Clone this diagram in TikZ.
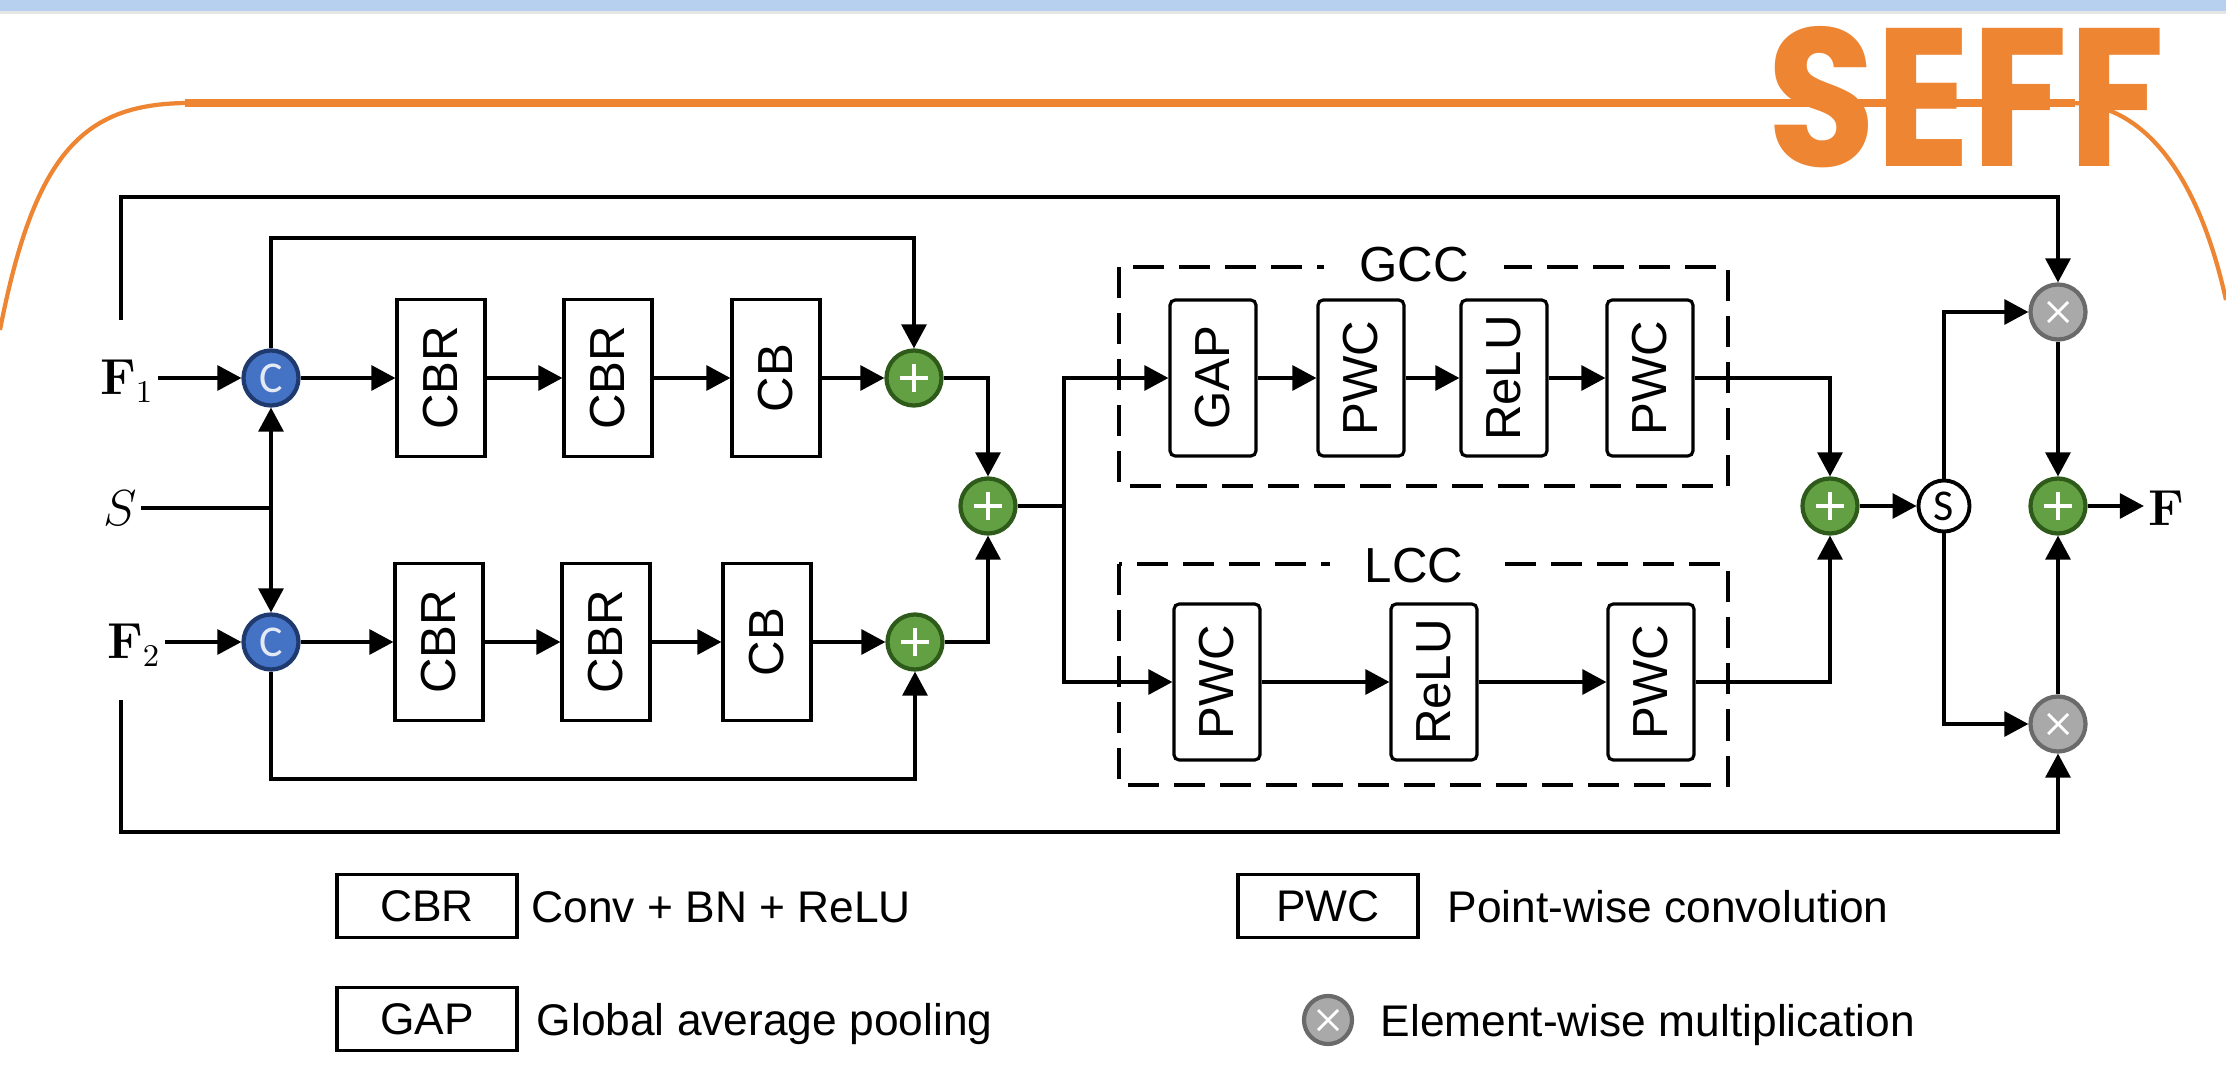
\documentclass[tikz,border=0pt]{standalone}
\usepackage[no-math]{fontspec}
\usepackage{graphicx}
\setmainfont{Liberation Sans}
\newfontfamily\symfont{Carlito}
\newfontfamily\titlefont{Poppins}
\usetikzlibrary{arrows.meta,calc}
\definecolor{seffor}{HTML}{EE8532}
\definecolor{bandblue}{HTML}{B7D0F0}
\definecolor{cfill}{HTML}{4472C4}
\definecolor{cborder}{HTML}{1F3A6E}
\definecolor{gfill}{HTML}{62A043}
\definecolor{gborder}{HTML}{2E5A1A}
\definecolor{xfill}{HTML}{A9A9A9}
\definecolor{xborder}{HTML}{6A6A6A}
\tikzset{
  conn/.style={line width=0.9pt},
  arr/.style={conn,-{Triangle[length=0.24cm,width=0.25cm]}},
  blk/.style={draw,line width=0.9pt,minimum width=0.88cm,minimum height=1.57cm,inner sep=0pt,font=\fontsize{14}{16}\selectfont},
  rblk/.style={blk,rounded corners=1.5pt,minimum width=0.86cm,minimum height=1.56cm},
  catc/.style={circle,draw=cborder,fill=cfill,line width=1.2pt,minimum size=0.55cm,inner sep=0pt,text=white!85!cfill,font=\symfont\fontsize{12.5}{12.5}\selectfont},
  addc/.style={circle,draw=gborder,fill=gfill,line width=1.2pt,minimum size=0.55cm,inner sep=0pt,
    path picture={\draw[white,line width=0.9pt]
      ([xshift=-0.14cm]path picture bounding box.center) -- ([xshift=0.14cm]path picture bounding box.center)
      ([yshift=-0.14cm]path picture bounding box.center) -- ([yshift=0.14cm]path picture bounding box.center);}},
  mulc/.style={circle,draw=xborder,fill=xfill,line width=1.2pt,minimum size=0.55cm,inner sep=0pt,
    path picture={\draw[white,line width=0.8pt]
      ([xshift=-0.1cm,yshift=-0.1cm]path picture bounding box.center) -- ([xshift=0.1cm,yshift=0.1cm]path picture bounding box.center)
      ([xshift=-0.1cm,yshift=0.1cm]path picture bounding box.center) -- ([xshift=0.1cm,yshift=-0.1cm]path picture bounding box.center);}},
  sc/.style={circle,draw=black,fill=white,line width=1.1pt,minimum size=0.51cm,inner sep=0pt,font=\symfont\fontsize{12.5}{12.5}\selectfont},
  leg/.style={draw,line width=0.9pt,minimum width=1.8cm,minimum height=0.63cm,inner sep=0pt,font=\fontsize{12.6}{14}\selectfont},
  legtxt/.style={anchor=base west,inner sep=0pt,font=\fontsize{12.6}{14}\selectfont},
  mlabel/.style={inner sep=1pt,font=\fontsize{13.5}{16}\selectfont},
  dbox/.style={draw,line width=1.2pt,dash pattern=on 0.31cm off 0.15cm},
  dlabel/.style={fill=white,inner xsep=0.35cm,inner ysep=1pt,font=\fontsize{14}{16}\selectfont}
}
\begin{document}
\begin{tikzpicture}[x=0.01cm,y=-0.01cm]
\useasboundingbox (0,0) rectangle (2226,1079);
\fill[white] (0,0) rectangle (2226,1079);
% top band
\fill[bandblue] (0,0) rectangle (2226,11);
\fill[black!10] (0,11) rectangle (2226,14);
% orange frame
\draw[seffor,line width=1.2pt] (0,330) .. controls (35,150) and (85,103) .. (190,103);
\draw[seffor,line width=2pt] (185,103) -- (2075,103);
\draw[seffor,line width=1.2pt] (2070,103) .. controls (2135,103) and (2195,160) .. (2226,300);
\node[text=seffor,inner sep=0pt] (title) at (1966,97) {\resizebox{3.97cm}{1.40cm}{\titlefont\bfseries SEFF}};

% inputs
\node[mlabel] (F1) at (127,381) {$\mathbf{F}_1$};
\node[mlabel] (S) at (120,508) {$S$};
\node[mlabel] (F2) at (134,645) {$\mathbf{F}_2$};
\node[catc] (C1) at (271,378) {C};
\node[catc] (C2) at (271,642) {C};
\coordinate (J) at (271,508);
\coordinate (T0) at (121,320);
\coordinate (B0) at (121,700);

% branch 1
\node[blk] (B11) at (441,378) {\rotatebox{90}{CBR}};
\node[blk] (B12) at (608,378) {\rotatebox{90}{CBR}};
\node[blk] (B13) at (776,378) {\rotatebox{90}{CB}};
\node[addc] (A1) at (914,378) {};
% branch 2
\node[blk] (B21) at (439,642) {\rotatebox{90}{CBR}};
\node[blk] (B22) at (606,642) {\rotatebox{90}{CBR}};
\node[blk] (B23) at (767,642) {\rotatebox{90}{CB}};
\node[addc] (A2) at (915,642) {};
\node[addc] (AM) at (988,506) {};
\coordinate (K) at (1064,506);

% GCC / LCC
\draw[dbox] (1119,267) rectangle (1728,486);
\node[dlabel] (GCC) at (1414,265) {GCC};
\draw[dbox] (1119,564) rectangle (1728,785);
\node[dlabel] (LCC) at (1414,566) {LCC};
\node[rblk] (G1) at (1213,378) {\rotatebox{90}{GAP}};
\node[rblk] (G2) at (1361,378) {\rotatebox{90}{PWC}};
\node[rblk] (G3) at (1504,378) {\rotatebox{90}{ReLU}};
\node[rblk] (G4) at (1650,378) {\rotatebox{90}{PWC}};
\node[rblk] (L1) at (1217,682) {\rotatebox{90}{PWC}};
\node[rblk] (L2) at (1434,682) {\rotatebox{90}{ReLU}};
\node[rblk] (L3) at (1651,682) {\rotatebox{90}{PWC}};

% output part
\node[addc] (A3) at (1830,506) {};
\node[sc] (SC) at (1944,506) {S};
\node[mulc] (M1) at (2058,312) {};
\node[mulc] (M2) at (2058,724) {};
\node[addc] (AF) at (2058,506) {};
\node[mlabel] (F) at (2166,508) {$\mathbf{F}$};

% connectors
\draw[arr] (F1.east |- C1) -- (C1.west);
\draw[arr] (F2.east |- C2) -- (C2.west);
\draw[conn] (S.east |- J) -- (J);
\draw[arr] (J) -- (C1.south);
\draw[arr] (J) -- (C2.north);
\draw[arr] (C1) -- (B11);
\draw[arr] (B11) -- (B12);
\draw[arr] (B12) -- (B13);
\draw[arr] (B13) -- (A1);
\draw[arr] (C2) -- (B21);
\draw[arr] (B21) -- (B22);
\draw[arr] (B22) -- (B23);
\draw[arr] (B23) -- (A2);
\draw[arr] (C1.north) -- (C1 |- 0,238) -| (A1.north);
\draw[arr] (C2.south) -- (C2 |- 0,779) -| (A2.south);
\draw[arr] (A1.east) -| (AM.north);
\draw[arr] (A2.east) -| (AM.south);
\draw[conn] (AM.east) -- (K);
\draw[arr] (K) |- (G1.west);
\draw[arr] (K) |- (L1.west);
\draw[arr] (G1) -- (G2);
\draw[arr] (G2) -- (G3);
\draw[arr] (G3) -- (G4);
\draw[arr] (L1) -- (L2);
\draw[arr] (L2) -- (L3);
\draw[arr] (G4.east) -| (A3.north);
\draw[arr] (L3.east) -| (A3.south);
\draw[arr] (A3) -- (SC);
\draw[arr] (SC.north) |- (M1.west);
\draw[arr] (SC.south) |- (M2.west);
\draw[arr] (M1) -- (AF);
\draw[arr] (M2) -- (AF);
\draw[arr] (AF.east) -- (AF -| F.west);
\draw[arr] (T0) -- (T0 |- 0,197) -| (M1.north);
\draw[arr] (B0) -- (B0 |- 0,832) -| (M2.south);

% legend
\node[leg] (LCBR) at (427,906) {CBR};
\node[legtxt] (LCBRt) at (531,922) {Conv + BN + ReLU};
\node[leg] (LGAP) at (427,1019) {GAP};
\node[legtxt] (LGAPt) at (536,1035) {Global average pooling};
\node[leg] (LPWC) at (1328,906) {PWC};
\node[legtxt] (LPWCt) at (1447,922) {Point-wise convolution};
\node[mulc,minimum size=0.48cm] (LMUL) at (1328,1020) {};
\node[legtxt] (LMULt) at (1380,1036) {Element-wise multiplication};
\end{tikzpicture}
\end{document}
